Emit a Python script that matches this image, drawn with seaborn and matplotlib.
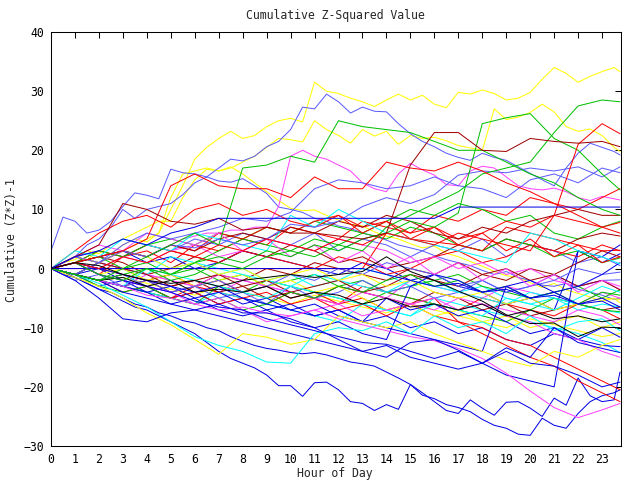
import matplotlib
matplotlib.use("Agg")
import matplotlib.pyplot as plt
import seaborn as sns
import pandas as pd

# ---------------- time grids (hours) ----------------
HOURS_FINE = [i * 0.5 for i in range(48)] + [23.75]
HOURS_COARSE = list(range(24)) + [23.75]

# ---------------- gnuplot-like colours ----------------
COLORS = {
    "red": "#ff0000", "green": "#00c000", "lblue": "#5a5aff", "blue": "#0000e8",
    "magenta": "#ff40ff", "cyan": "#00ffff", "darkred": "#a00000",
    "yellow": "#ffff00", "black": "#000000",
}

# ---------------- half-hour series ----------------
Y1 = [0, -0.5, -1, 0, 1, 2, 3, 4, 5, 6, 10, 14, 18.5, 20.5, 22, 23.2, 22, 22.5, 24, 25, 25.4, 24.8, 31.5, 30, 29.6, 28.8, 28.2, 27.4, 28.5, 29.5, 28.5, 29.3, 27.8, 27.2, 29.8, 29.5, 30.2, 29.6, 28.5, 28.8, 29.8, 32, 34, 33, 31.5, 32.5, 33.3, 34, 33.3]
Y2 = [0, 1, 2, 1.5, 3, 2.5, 4, 5, 4.5, 6, 12, 16, 16.5, 17, 16.5, 17, 18, 19, 20.5, 22, 21.8, 21.4, 25, 23.5, 22.5, 21.2, 23.5, 22.4, 23.2, 21, 22.5, 22, 22.2, 21.6, 20.8, 20.4, 20, 27, 25.2, 25.6, 26.4, 27.8, 26.5, 24, 23.2, 23.6, 22.5, 20.5, 19.8]
Y3 = [0, 1, 1.5, 3, 2.5, 4, 5, 6, 7, 8, 8, 12, 15, 16.8, 16.5, 17.2, 16, 14.5, 13, 11.5, 10.2, 9.8, 9.9, 9, 8.2, 7.5, 7.2, 6.2, 5.5, 5, 4.2, 3.5, 3.8, 2.6, 2, 1.2, 0.4, -0.5, -1.2, -1.5, -2.4, -3.2, -2.5, -3.6, -4.2, -4.8, -5.5, -5, -5.8]
LB1 = [0, 1, 2, 4, 5, 7, 10, 8.5, 10, 10.5, 11, 12.5, 14.5, 15.5, 17, 18.5, 18.2, 19, 20.6, 21.5, 23.5, 27.3, 27, 29.5, 28.2, 26.3, 27.3, 26.6, 26.5, 24.5, 22.8, 21.5, 20.6, 19.5, 18.8, 18.3, 19.5, 18.8, 18.3, 17.2, 16.1, 15, 14, 17, 19.5, 21.2, 20.5, 19.8, 19.2]
LB2 = [3, 8.7, 8, 6, 6.5, 8, 10.5, 12.8, 12.4, 11.8, 16.8, 16.2, 16, 15.5, 14.8, 14.6, 15.2, 14, 12.7, 10.4, 10, 9.5, 8.5, 8, 7.2, 6.8, 6, 5.5, 4.8, 4, 3.5, 3, 2.2, 1.5, 1, 0.5, -0.3, -1, -0.5, -1.5, -2, -2.8, -3, -2.5, -3.5, -4, -4.5, -5.2, -5]
M1 = [0, -0.5, -1, 0, 1, 2, 3, 2.5, 2, 3, 4, 5, 5.5, 6, 6, 6.5, 6.5, 7, 7, 10.5, 19, 20, 19, 18.5, 17.5, 16.5, 14.5, 13.5, 13, 16, 17.8, 16.7, 15.8, 14.2, 14, 16.5, 17.3, 17, 15.5, 14, 13.5, 13.3, 13.6, 13, 12, 11.5, 12.2, 11.8, 11.6]
B1 = [0, -1, -1.5, -2.5, -3.5, -4.5, -5.5, -6.5, -7, -8, -9, -10, -11, -12.5, -14, -15.2, -16, -16.8, -18, -19.8, -19.8, -21.6, -19.3, -19.2, -20.5, -22.5, -22.8, -24, -23, -23.8, -19.6, -21.4, -22, -23, -23.5, -24.2, -25.5, -26.5, -27, -28, -28.2, -25.3, -26.5, -27, -24.5, -22.5, -21.5, -21, -20.5]
B2 = [0, -0.5, -1.5, -2.5, -3.5, -4, -5, -6, -6.5, -7.5, -8, -8.8, -9.2, -10, -10.5, -11.5, -12.3, -13, -13.5, -13.8, -14.2, -14.4, -14.2, -14.6, -15.2, -15.8, -16.1, -16.5, -17.5, -18.5, -19.6, -21, -22.5, -24, -24.5, -22.2, -23.6, -24.8, -22.6, -22.5, -23.6, -25, -21.9, -23.1, -18.5, -21.5, -22.5, -22.2, -17.5]

# ---------------- hourly series ----------------
G1 = [0, -1, -2, -1, 0, -2, -1, 1, 0, 2, 3, 2, 4, 3, 7, 9, 11, 13, 16, 17, 18, 23, 27.5, 28.5, 28.2]
G2 = [0, 1, -1, -2, 0, -1, 1, 2, 1, 3, 2, 4, 3, 5, 6, 8, 7, 9.4, 24.5, 25.5, 26.2, 22, 20, 16, 13.3]
G3 = [0, -1, -2, 0, 2, 4, 6, 4, 17, 17.5, 19, 18, 25, 24, 23.5, 23, 21.5, 20, 20, 18, 16, 14.5, 12, 10, 9]
R1 = [0, 1, 2, 3, 5, 14, 16, 14, 13.5, 13.5, 12, 15.5, 13.5, 13.5, 18, 17, 16.5, 18, 16.5, 14.5, 13, 11, 9, 7, 6]
R2 = [0, 1, 0, 2, 1, 3, 2, 4, 3, 5, 4, 3, 5, 4, 6, 5, 4, 6, 5, 4, 3, 9, 21, 24.5, 22.8]
DR1 = [0, 2, 4, 11, 10, 8, 7.5, 8.5, 6.5, 7, 6, 6, 5.5, 5, 6, 17.5, 23, 23, 20, 19.8, 22, 21.5, 21.2, 21.5, 20.6]
LB3 = [0, 2, 1, 4, 6, 5, 6, 7, 8.5, 8, 9.5, 13.5, 15, 14.5, 13.5, 14, 15.5, 14, 13.5, 12, 15, 16, 14.5, 17, 16.2]
LB4 = [0, -1, 1, 3, 2, 4, 3.5, 5, 4, 5, 7.5, 7, 8, 10.5, 12, 11, 12.5, 15.8, 16.5, 16.2, 17, 16.5, 17.2, 15.5, 17.2]
FLAT_BLUE = [0, 2, 3, 5, 4, 6, 7, 8.5, 8.5, 8.5, 8.5, 8.5, 8.5, 8.5, 8.5, 8.5, 8.5, 10.4, 10.4, 10.4, 10.4, 10.4, 10.4, 10.4, 10.4]
K1 = [0, 1, 0.5, -1, -2, -2.5, -2, -3, -2, -1.5, -1, -1.5, -1, -0.5, 2, -0.5, -2, -3.8, -5.5, -7.8, -9.3, -9.2, -11.5, -9.9, -10]
K2 = [0, -1, -2, -1.5, -3, -2, -4, -3.5, -4, -3, -5, -4, -4.5, -6, -5, -6.5, -6, -7, -6, -8, -7, -8.5, -8, -9, -8.5]
YB = [0, -1.5, -3, -5, -7.5, -9.5, -12, -14.5, -11, -11.6, -12.8, -12, -8, -9, -10, -9, -11, -12.5, -14, -15.5, -16.5, -14, -15, -13, -12]
CB = [0, -1, -2.5, -4.5, -6.5, -9, -11.5, -13, -14, -15.8, -16, -11, -10, -10.5, -9, -11, -8, -10, -9, -11, -8, -10.5, -9, -8.5, -10.5]
MB = [0, -1, -2, -3, -4.5, -5, -6, -7, -6.5, -7.5, -8, -7, -8.5, -9.5, -10.5, -11.5, -12.2, -13.5, -15.2, -17.7, -20.7, -23.5, -25.2, -23.9, -22.8]
B3 = [0, -2, -5, -8.5, -9, -7.5, -7, -6, -7.5, -7.5, -8.5, -10, -12, -14, -15, -12.5, -12, -13.8, -16, -14, -16, -16.5, -18, -20, -19.2]
B4 = [0, 1, -1, -2, -3, -4, -5.5, -6.5, -7, -8.5, -9.5, -10.5, -11.5, -12.5, -12.8, -14, -15.2, -14, -16, -13.4, -15, -10, -12.5, -13.5, -14.2]
T1 = [0, 1, -1, 2, 3, 1, 4, 3, 5, 4, 7, 6, 5, 8, 7, 6, 9, 8, 10, 9, 12, 11, 10, 12, 13.5]
T2 = [0, -1, 1, 0, -2, -1, 1, 3, 5, 7, 6, 8, 7, 6, 8, 10, 9, 11, 10, 8, 9, 6, 5, 7, 8]
T3 = [0, 1, 2, 1, -1, 0, 2, 1, 3, 2, 4, 3, 1, 2, 0, 1, 2, 4, 3, 5, 4, 3, 5, 6, 5.5]
T4 = [0, -1, -2, -3, -1, -2, -3, -4, -2, -3, -4, -5, -3, -4, -5, -2, -3, -4, -5, -3, -4, -5, -6, -4, -5]
T5 = [0, 2, 1, 3, 2, 0, 1, -1, 0, -2, -1, -3, -2, 0, -1, -3, -2, -4, -3, -5, -6, -5, -7, -6, -6.5]
T6 = [0, -1, -2, -3, -4, -5, -3, -4, -5, -6, -4, -5, -6, -3, -4, -5, -6, -7, -5, -6, -7, -8, -6, -7, -8.5]
T7 = [0, 1, 2, 3, 1, 2, 0, 1, 3, 2, 1, 0, -1, 1, 0, -2, -1, -3, -4, -6, -5, -7, 3, 1, 2.5]
T8 = [0, -1, -2, -1.5, -2.5, -3.5, -4.5, -3, -4, -5, -6, -4.5, -5.5, -6.5, -7.5, -6, -7, -8, -9, -10, -8.5, -9.5, -10.5, -11.5, -11]
T9 = [0, 2, 3, 2, 4, 3, 5, 4, 6, 5, 4, 6, 3, 5, 4, 2, 4, 3, 5, 2, 4, 3, 1, 2, 0.5]
T10 = [0, -1, -2, -3, -4, -5, -6, -3, -4, -2, -3, -4, -5, -6, -4, -5, -6, -7, -8, -9, -7, -5, -6, -4, -4.5]
T11 = [0, -1, -2, -3, -2, -4, -3, -1, -2, 0, -1, 1, 0, -1, -2, 0, -1, 1, -1, -2, 0, -1, 1, 3, 2]
T12 = [0, 1, 3, 2, 4, 3, 2, 1, 3, 2, 1, 0, 2, 1, -1, 0, 2, 3, 1, 2, 4, 3, 2, 4, 3]
T13 = [0, 1, 0, 2, 1, 3, 4, 2, 3, 5, 4, 3, 5, 4, 3, 1, 2, 0, 1, -1, 0, -2, -3, -2, -3.5]
T14 = [0, -1, -2, -3, -4, -5, -6, -4, -5, -6, -7, -8, -9, -6, -7, -8, -5, -6, -7, -8, -9, -10, -11, -12.5, -14.2]
T15 = [0, -1, 0, -2, -3, -5, -4, -6, -5, -7, -6, -8, -7, -9, -8, -10, -9, -11, -10, -12, -13, -11, -12, -10, -11.6]
T16 = [0, -1, -2, -1, -2, -3, -2, -4, -3, -5, -4, -5, -3, -4, -5, -6, -4, -5, -7, -6, -8, -7, -6, -7, -6.5]
T17 = [0, 1, 2, 0, 1, -1, 0, -2, -1, -3, -2, -1, -3, -2, -4, -3, -2, -1, -3, -4, -5, -4, -3, -5, -3.6]
T18 = [0, -1, -2, -4, -3, -5, -4, -6, -5, -4, -6, -5, -7, -6, -8, -6, -5, -9, -11, -13, -15, -16.5, -19, -21, -22.5]
T19 = [0, 1, 0, -1, -2, -1, -3, -2, -4, -3, -5, -4, -6, -5, -7, -6, -8, -9, -10, -12, -13, -15, -17, -19, -20.5]
T20 = [0, -1, -2, -1, -3, -4, -3, -5, -4, -6, -3, -5, -4, -2, -4, -3, -5, -4, -2, -4, -3, -1, -3, -2, -1.9]
T21 = [0, 1, -1, 0, -2, -1, -3, -2, -1, -3, -2, -4, -3, -5, -7, -6, -8, -7, -9, -8, -10, -9, -8, -10, -9]
T22 = [0, -1, 1, 0, -1, 2, 1, 0, -1, -2, -3, -1, -2, -3, -4, -2, -3, -4, -5, -6, -4, -5, -6, -7, -7.5]
T23 = [0, 2, 1, 0, -1, -2, -3, -1, -2, -3, -4, -5, -6, -4, -5, -6, -7, -5, -6, -7, -8, -9, -7, -8, -9.5]
T24 = [0, 1, 3, 2, 4, 5, 4, 6, 5, 4, 3, 5, 4, 6, 5, 7, 6, 4, 3, 5, 4, 2, 3, 1, 1.8]
T25 = [0, -1, 1, 0, -1, -3, -2, -1, -3, -2, -4, -3, -2, -4, -3, -1, -2, -3, -1, 0, -2, -1, -3, -2, -3.6]
T26 = [0, -1, -3, -2, -4, -3, -5, -4, -6, -5, -7, -8, -7, -9, -5, -7, -6, -8, -7, -9, -11, -10, -12, -13, -13.2]
T27 = [0, 2, 1, 3, 2, 4, 3, 6, 5, 7, 6, 8, 9, 7, 8, 6, 7, 5, 6, 8, 7, 9, 8, 7, 7.8]
T28 = [0, -2, -1, -3, -2, -4, -3, -2, -4, -3, -1, -2, 0, -1, 1, 0, -1, -3, -2, -4, -3, -2, 0, -1, -0.6]
T29 = [0, 2, 1, 3, 2, 0, 1, -1, 0, -2, -1, 0, -2, -1, -3, -2, -4, -5, -4, -6, -5, -7, -6, -5, -5.2]
T30 = [0, -1, -2, -3, 0, -1, -2, -3, -4, -5, -3, -4, -5, -6, -7, -8, -6, -7, -8, -5, -6, -7, -5, -3, -4]
T31 = [0, -1, -3, -4, -3, -5, -6, -5, -7, -6, -4, -5, -3, -4, -2, -1, -3, -2, -4, -3, -5, -4, -6, -7, -7.3]
T32 = [0, 1, -1, -2, -3, -4, -6, -5, -7, -9, -8, -7, -6, -8, -7, -6, -5, -7, -6, -8, -9, -11, -12, -14, -15]
T33 = [0, 0, 0, 0, 0, 0, 0, 0, 0, 0, 0, 0, 0, 0, 6, 5, 4.5, 4, 3, 7, 6, 5, 4, 3, 3.1]
T34 = [0, 0, 0, 0, 0, 0, 0, 0, 0, 0, 0, 0, 0, 0, -1, -2, -3, -2.5, -4, -3.5, -5, -4.5, -6, -5.5, -7]
T35 = [0, 1, 2, 3, 2, 4, 3, 5, 6, 5, 7, 6, 8, 7, 9, 8, 6, 5, 7, 6, 8, 9, 10, 9, 9]
T37 = [0, -1, -2, -3, -4, -6, -5, -7, -8, -7, -9, -10, -9, -11, -12, -3, -1, -2, -4, -3, -5, -4, -6, -5, -6.5]
T38 = [0, 1, 0, -1, -2, -3, -4, -3, -5, -6, -7, -6, -8, -9, -10, -11, -12, -13, -14, -3, -2, -4, -3, -1, 1]
T39 = [0, -1, -2, -4, -5, -6, -7, -8, -9, -10, -11, -12, -13, -14, -13, -15, -16, -17, -16, -18, -19, -20, 3, 2, 4]
T40 = [0, 3, 6, 8, 9, 7, 10, 11, 9, 10, 8, 7, 9, 6, 8, 5, 7, 4, 6, 3, 5, 2, 4, 1, 2]
T41 = [0, 2, 4, 3, 6, 5, 4, 6, 3, 5, 2, 4, 1, 3, 0, 2, -1, 1, -2, 0, -3, -1, -4, -2, -3]
T42 = [0, 3, 2, 5, 4, 3, 6, 5, 4, 3, 9, 7, 10, 8, 6, 5, 4, 3, 2, 1, 6, 5, 3, 2, 0.8]

FINE = [("Y1", "yellow", Y1), ("Y2", "yellow", Y2), ("Y3", "yellow", Y3),
        ("LB1", "lblue", LB1), ("LB2", "lblue", LB2), ("M1", "magenta", M1),
        ("B1", "blue", B1), ("B2", "blue", B2)]
COARSE = [("T1", "red", T1), ("T2", "green", T2), ("T3", "darkred", T3), ("T4", "magenta", T4),
          ("T5", "cyan", T5), ("T6", "red", T6), ("T7", "blue", T7), ("T8", "yellow", T8),
          ("T9", "lblue", T9), ("T10", "green", T10), ("T11", "darkred", T11), ("T12", "red", T12),
          ("T13", "magenta", T13), ("T14", "cyan", T14), ("T15", "blue", T15), ("T16", "darkred", T16),
          ("T17", "green", T17), ("T18", "red", T18), ("T19", "red", T19), ("T20", "lblue", T20),
          ("T21", "yellow", T21), ("T22", "cyan", T22), ("T23", "magenta", T23), ("T24", "green", T24),
          ("T25", "darkred", T25), ("T26", "blue", T26), ("T27", "red", T27), ("T28", "lblue", T28),
          ("T29", "yellow", T29), ("T30", "cyan", T30), ("T31", "green", T31), ("T32", "magenta", T32),
          ("T33", "red", T33), ("T34", "blue", T34), ("T35", "darkred", T35), ("T37", "blue", T37),
          ("T38", "blue", T38), ("T39", "blue", T39), ("T40", "red", T40), ("T41", "magenta", T41),
          ("T42", "cyan", T42),
          ("YB", "yellow", YB), ("CB", "cyan", CB), ("MB", "magenta", MB), ("B3", "blue", B3),
          ("B4", "blue", B4), ("K2", "black", K2), ("LB3", "lblue", LB3), ("LB4", "lblue", LB4),
          ("G1", "green", G1), ("G2", "green", G2), ("G3", "green", G3), ("R1", "red", R1),
          ("R2", "red", R2), ("DR1", "darkred", DR1), ("K1", "black", K1), ("FLAT_BLUE", "blue", FLAT_BLUE)]

frames, palette = [], {}
for name, col, vals in FINE:
    assert len(vals) == len(HOURS_FINE), name
    frames.append(pd.DataFrame({"hour": HOURS_FINE, "value": vals, "series": name}))
    palette[name] = COLORS[col]
for name, col, vals in COARSE:
    assert len(vals) == len(HOURS_COARSE), name
    frames.append(pd.DataFrame({"hour": HOURS_COARSE, "value": vals, "series": name}))
    palette[name] = COLORS[col]
df = pd.concat(frames, ignore_index=True)

sns.set_style("white")
plt.rcParams["font.family"] = ["DejaVu Sans Mono"]

fig = plt.figure(figsize=(6.4, 4.8), dpi=100)
ax = fig.add_axes([51 / 640, 34 / 480, 570 / 640, 414 / 480])

sns.lineplot(data=df, x="hour", y="value", hue="series", palette=palette,
             estimator=None, legend=False, ax=ax)
for ln in ax.get_lines():
    ln.set_linewidth(0.72)
    ln.set_antialiased(True)

ax.set_xlim(0, 23.79)
ax.set_ylim(-30, 40)
ax.set_xticks(range(24))
ax.set_yticks(range(-30, 41, 10))
ax.tick_params(direction="in", top=True, right=True, length=4.5, width=0.75,
               labelsize=8.3, colors="black", pad=5)
for s in ax.spines.values():
    s.set_color("black")
    s.set_linewidth(0.75)
ax.set_xlabel("")
ax.set_ylabel("")

fig.text(335 / 640, 1 - 16 / 480, "Cumulative Z-Squared Value", ha="center", va="center", fontsize=8.3)
fig.text(335 / 640, 1 - 473 / 480, "Hour of Day", ha="center", va="center", fontsize=8.3)
fig.text(12 / 640, 1 - 240 / 480, "Cumulative (Z*Z)-1", ha="center", va="center", rotation=90, fontsize=8.3)

fig.savefig("out.png", dpi=100, facecolor="white")
